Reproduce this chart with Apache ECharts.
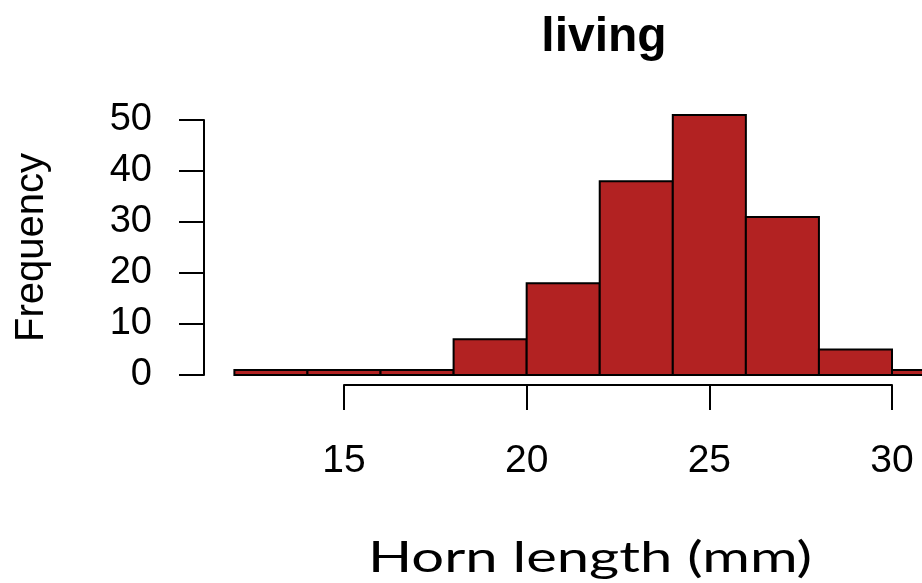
<!DOCTYPE html>
<html>
<head>
<meta charset="utf-8">
<script src="https://cdn.jsdelivr.net/npm/echarts@6/dist/echarts.min.js"></script>
<style>html,body{margin:0;padding:0;background:#fff}#c{width:922px;height:583px}</style>
</head>
<body>
<div id="c"></div>
<script>
// Data
var binStarts = [12, 14, 16, 18, 20, 22, 24, 26, 28, 30];
var binEnds   = [14, 16, 18, 20, 22, 24, 26, 28, 30, 32];
var counts    = [1, 1, 1, 7, 18, 38, 51, 31, 5, 1];
var xTicks    = [15, 20, 25, 30];
var yTicks    = [0, 10, 20, 30, 40, 50];
var titleText = 'living';
var xTitle    = 'Horn length (mm)';
var yTitle    = 'Frequency';

var chart = echarts.init(document.getElementById('c'), null, {renderer: 'canvas'});
var barData = binStarts.map(function (s, i) { return [s, binEnds[i], counts[i]]; });

var option = {
  animation: false,
  backgroundColor: '#ffffff',
  title: {
    text: titleText,
    left: 599, top: 9, textAlign: 'center',
    textStyle: {fontFamily: 'Liberation Sans, Arial, sans-serif', fontWeight: 'bold', fontSize: 48, color: '#000'}
  },
  grid: [
    {left: 234.4, right: 30, top: 120, bottom: 208, containLabel: false},
    {left: 344, right: 30, top: 300, bottom: 198, containLabel: false}
  ],
  xAxis: [
    {gridIndex: 0, type: 'value', min: 12, max: 30, show: false},
    {gridIndex: 1, type: 'value', min: xTicks[0], max: xTicks[xTicks.length - 1], interval: 5,
     position: 'bottom',
     axisLine: {show: true, lineStyle: {color: '#000', width: 2}},
     axisTick: {show: true, length: 25, lineStyle: {color: '#000', width: 2}},
     axisLabel: {show: true, margin: 57, color: '#000', fontSize: 39, fontFamily: 'Liberation Sans, Arial, sans-serif'},
     splitLine: {show: false}}
  ],
  yAxis: [
    {gridIndex: 0, type: 'value', min: yTicks[0], max: yTicks[yTicks.length - 1], interval: 10,
     position: 'left', offset: 30.4,
     name: yTitle, nameLocation: 'middle', nameRotate: 90, nameGap: 152,
     nameTextStyle: {fontSize: 40, color: '#000', fontFamily: 'Liberation Sans, Arial, sans-serif'},
     axisLine: {show: true, lineStyle: {color: '#000', width: 2}},
     axisTick: {show: true, length: 25, lineStyle: {color: '#000', width: 2}},
     axisLabel: {show: true, margin: 52, color: '#000', fontSize: 38, fontFamily: 'Liberation Sans, Arial, sans-serif'},
     splitLine: {show: false}},
    {gridIndex: 1, type: 'value', show: false}
  ],
  graphic: [{
    type: 'text',
    x: 590, y: 558,
    scaleX: 1.38,
    style: {text: xTitle, fill: '#000', font: '42px Lato, "Open Sans", sans-serif', textAlign: 'center', textVerticalAlign: 'middle'}
  }],
  series: [{
    type: 'custom',
    xAxisIndex: 0, yAxisIndex: 0,
    clip: false,
    data: barData,
    encode: {x: [0, 1], y: 2},
    renderItem: function (params, api) {
      var p0 = api.coord([api.value(0), 0]);
      var p1 = api.coord([api.value(1), api.value(2)]);
      return {
        type: 'rect',
        shape: {x: p0[0], y: p1[1], width: p1[0] - p0[0], height: p0[1] - p1[1]},
        style: {fill: '#B22222', stroke: '#000', lineWidth: 2}
      };
    }
  }]
};
chart.setOption(option);
</script>
</body>
</html>
